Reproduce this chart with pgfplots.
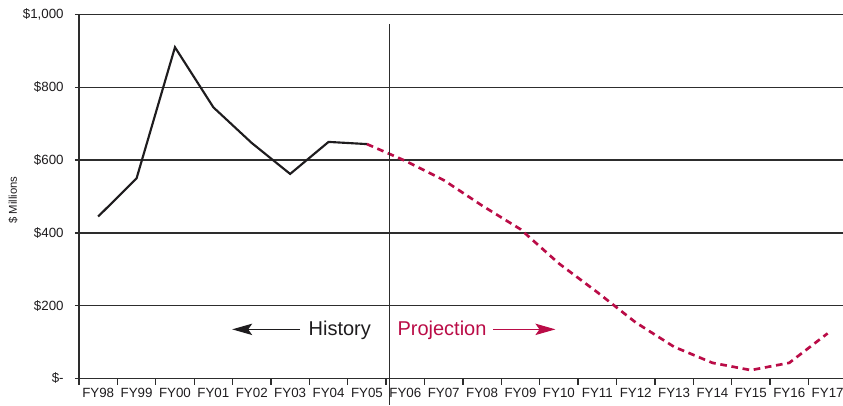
\documentclass[border=0pt]{standalone}
\usepackage{pgfplots}
\pgfplotsset{compat=1.18}
\usepackage{fontspec}
\setmainfont{Liberation Sans}
\usetikzlibrary{arrows.meta}
\definecolor{proj}{RGB}{186,12,71}
\definecolor{gridc}{RGB}{45,45,45}
\definecolor{linec}{RGB}{30,28,30}
\begin{document}
\begin{tikzpicture}
\begin{axis}[
  scale only axis,
  width=573pt, height=273pt,
  at={(0,0)}, anchor=south west,
  xmin=-0.5, xmax=19.4,
  ymin=0, ymax=1000,
  axis x line*=bottom, axis y line*=left,
  axis line style={gridc, line width=1pt},
  tick align=outside,
  tick style={gridc, line width=1pt},
  xtick={0,...,19},
  xticklabels={FY98,FY99,FY00,FY01,FY02,FY03,FY04,FY05,FY06,FY07,FY08,FY09,FY10,FY11,FY12,FY13,FY14,FY15,FY16,FY17},
  major x tick style={draw=none},
  minor xtick={-0.5,0.5,1.5,2.5,3.5,4.5,5.5,6.5,7.5,8.5,9.5,10.5,11.5,12.5,13.5,14.5,15.5,16.5,17.5,18.5},
  minor tick length=4.5pt,
  ytick={0,200,400,600,800,1000},
  yticklabels={\$-,\$200,\$400,\$600,\$800,{\$1,000}},
  major tick length=3pt,
  ymajorgrids,
  grid style={gridc, line width=1pt},
  /pgf/number format/assume math mode=true,
  ticklabel style={font=\fontsize{10}{12}\selectfont, text=linec},
  xticklabel style={yshift=-1pt},
  yticklabel style={xshift=-5pt},
  ylabel={\$ Millions},
  ylabel style={at={(axis description cs:-0.0864,0.49)}, anchor=center, font=\fontsize{8.5}{10}\selectfont, text=linec},
  clip=false,
]
\addplot[linec, line width=1.6pt, line join=miter] coordinates {
  (0,445) (1,550) (2,910) (3,745) (4,647) (5,562) (6,650) (7,644)
};
\addplot[proj, line width=2pt, dash pattern=on 5pt off 3.5pt] coordinates {
  (7,644) (8,598) (9,545) (10,475) (11,410) (12,316) (13,237) (14,154) (15,87) (16,43) (17,23) (18,43) (19,124)
};
\draw[gridc, line width=1pt] (axis cs:7.58,974) -- ([yshift=-20pt]axis cs:7.58,0);
\node[anchor=base east, inner sep=0pt, text=linec, font=\fontsize{15}{18}\selectfont] at (axis cs:7.11,117) {History};
\draw[linec, line width=0.9pt, -{Stealth[length=15pt,width=8.5pt,inset=3pt]}] (axis cs:5.26,135) -- (axis cs:3.49,135);
\node[anchor=base west, inner sep=0pt, text=proj, font=\fontsize{15}{18}\selectfont] at (axis cs:7.79,117) {Projection};
\draw[proj, line width=0.9pt, -{Stealth[length=15pt,width=8.5pt,inset=3pt]}] (axis cs:10.29,135) -- (axis cs:11.91,135);
\end{axis}
\pgfresetboundingbox
\path (-59.25pt,-19.875pt) rectangle (573pt,283.875pt);
\end{tikzpicture}
\end{document}
